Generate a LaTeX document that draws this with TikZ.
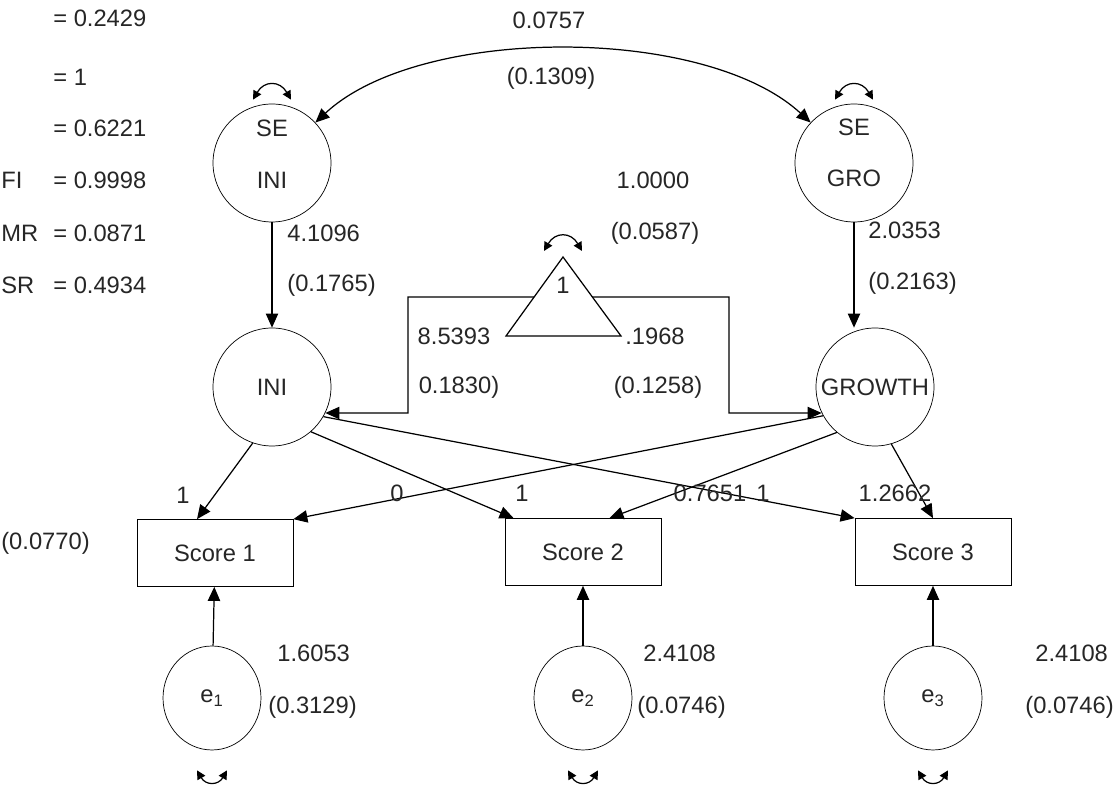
\documentclass[tikz,border=0pt]{standalone}
\usepackage{fontspec}
\setmainfont{Liberation Sans}
\usetikzlibrary{arrows.meta,shapes.geometric,calc}

\begin{document}
\begin{tikzpicture}[
    x=0.02cm, y=-0.02cm,
    font=\fontsize{13.5}{16}\selectfont,
    every node/.style={text=black!85},
    latent/.style={draw, circle, minimum size=2.36cm, inner sep=0pt},
    obs/.style={draw, rectangle, minimum width=3.12cm, minimum height=1.34cm},
    err/.style={draw, ellipse, minimum width=1.96cm, minimum height=2.08cm, inner sep=0pt},
    est/.style={inner sep=0pt},
    arr/.style={-{Triangle[length=8pt,width=7pt]}, line width=0.7pt},
    cov/.style={{Triangle[length=8pt,width=7pt]}-{Triangle[length=8pt,width=7pt]}, line width=0.7pt},
    var/.style={{Triangle[length=5pt,width=5pt]}-{Triangle[length=5pt,width=5pt]}, line width=0.7pt}
  ]
    \useasboundingbox (0,0) rectangle (1117,786);

    % fit statistics
    \node[est, anchor=west] (chisq) at (53,18) {= 0.2429};
    \node[est, anchor=west] (df) at (53,77) {= 1};
    \node[est, anchor=west] (pval) at (53,128) {= 0.6221};
    \node[est, anchor=west] (cfiname) at (1,180) {FI};
    \node[est, anchor=west] (cfi) at (53,180) {= 0.9998};
    \node[est, anchor=west] (rmrname) at (1,233) {MR};
    \node[est, anchor=west] (rmr) at (53,233) {= 0.0871};
    \node[est, anchor=west] (srname) at (1,285) {SR};
    \node[est, anchor=west] (sr) at (53,285) {= 0.4934};
    \node[est, anchor=west] (lefterr) at (1,543) {(0.0770)};

    % latent variables
    \node[latent] (seini) at (272,163) {};
    \node[est] (seini-se) at (272,128) {SE};
    \node[est] (seini-lab) at (272,180) {INI};
    \node[latent] (segro) at (854,163) {};
    \node[est] (segro-se) at (854,127) {SE};
    \node[est] (segro-lab) at (854,178) {GRO};
    \node[latent] (ini) at (272,387) {INI};
    \node[latent] (growth) at (875,387) {GROWTH};

    % observed scores and errors
    \node[obs] (s1) at (215,553) {Score 1};
    \node[obs] (s2) at (583,552) {Score 2};
    \node[obs] (s3) at (933,552) {Score 3};
    \node[err] (e1) at (212,698) {e\textsubscript{1}};
    \node[err] (e2) at (583,698) {e\textsubscript{2}};
    \node[err] (e3) at (933,698) {e\textsubscript{3}};

    % constant
    \coordinate (tapex) at (563,257);
    \coordinate (tleft) at (506,336);
    \coordinate (tright) at (621,336);
    \coordinate (tmeanl) at (534,297);
    \coordinate (tmeanr) at (592,297);
    \draw[line width=0.7pt] (tapex) -- (tleft) -- (tright) -- cycle;
    \node[est] (tone) at (563,285) {1};

    \draw[arr] (tmeanl) -- (408,297) -- (408,413) -- (ini.-26);
    \draw[arr] (tmeanr) -- (729,297) -- (729,413) -- (growth.206);

    \draw[arr] (seini) -- (ini);
    \draw[arr] (segro.south) -- (segro.south |- growth.north);
    \draw[cov] (seini.43) .. controls (420,25) and (705,25) .. (segro.137);

    \draw[arr] (ini.-109) -- (s1.118);
    \draw[arr] (ini.-49) -- (s2.154);
    \draw[arr] (ini.-30) -- (s3.north west);
    \draw[arr] (growth.209) -- (s1.north east);
    \draw[arr] (growth.230) -- (s2.52);
    \draw[arr] (growth.-74) -- (s3.north);

    \draw[arr] (e1) -- (s1);
    \draw[arr] (e2) -- (s2);
    \draw[arr] (e3) -- (s3);

    % variances
    \draw[var] ($(seini.north)+(-19,-4)$) to[bend left=60, looseness=1.5] ($(seini.north)+(19,-4)$);
    \draw[var] ($(segro.north)+(-19,-4)$) to[bend left=60, looseness=1.5] ($(segro.north)+(19,-4)$);
    \draw[var] ($(tapex)+(-19,-6)$) to[bend left=60, looseness=1.5] ($(tapex)+(19,-6)$);
    \draw[var] ($(e1.south)+(-15,20)$) to[bend right=60, looseness=1.5] ($(e1.south)+(15,20)$);
    \draw[var] ($(e2.south)+(-15,20)$) to[bend right=60, looseness=1.5] ($(e2.south)+(15,20)$);
    \draw[var] ($(e3.south)+(-15,20)$) to[bend right=60, looseness=1.5] ($(e3.south)+(15,20)$);

    % estimates
    \node[est] (cov-est) at (549,20) {0.0757};
    \node[est] (cov-se) at (551,78) {(0.1309)};
    \node[est] (var-est) at (653,180) {1.0000};
    \node[est] (var-se) at (655,233) {(0.0587)};
    \node[est, anchor=west] (ini-est) at (287,233) {4.1096};
    \node[est, anchor=west] (ini-se) at (287,285) {(0.1765)};
    \node[est, anchor=west] (gro-est) at (868,230) {2.0353};
    \node[est, anchor=west] (gro-se) at (868,283) {(0.2163)};
    \node[est] (int-est) at (454,336) {8.5393};
    \node[est] (int-se) at (459,387) {0.1830)};
    \node[est] (slp-est) at (655,336) {.1968};
    \node[est] (slp-se) at (658,387) {(0.1258)};

    \node[est] (l11) at (183,495) {1};
    \node[est] (l21) at (397,493) {0};
    \node[est] (l12) at (522,493) {1};
    \node[est] (l22) at (710,493) {0.7651};
    \node[est] (l13) at (763,493) {1};
    \node[est] (l23) at (895,493) {1.2662};

    \node[est, anchor=west] (e1-est) at (277,653) {1.6053};
    \node[est, anchor=west] (e1-se) at (268,707) {(0.3129)};
    \node[est, anchor=west] (e2-est) at (643,653) {2.4108};
    \node[est, anchor=west] (e2-se) at (637,707) {(0.0746)};
    \node[est, anchor=west] (e3-est) at (1035,653) {2.4108};
    \node[est, anchor=west] (e3-se) at (1025,707) {(0.0746)};
  \end{tikzpicture}
\end{document}
